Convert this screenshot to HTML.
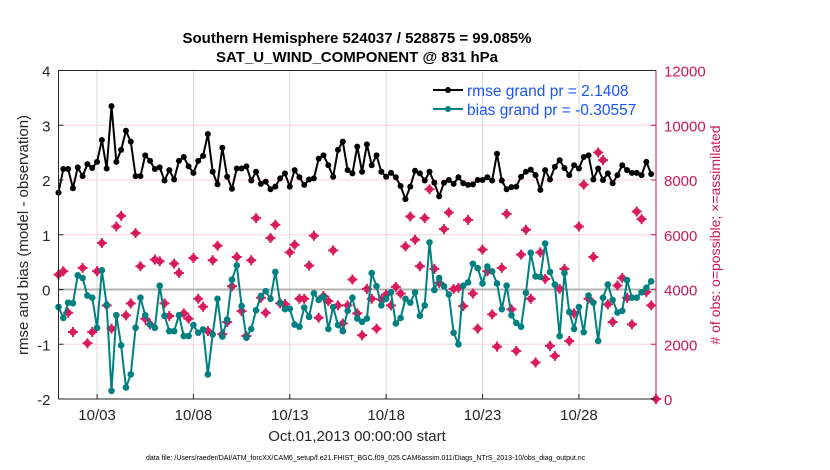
<!DOCTYPE html>
<html><head><meta charset="utf-8"><style>
html,body{margin:0;padding:0;background:#fff;}
svg{display:block;font-family:"Liberation Sans",Arial,sans-serif;}
</style></head><body>
<svg id="chart" width="830" height="470" viewBox="0 0 830 470">
<text x="357" y="43" text-anchor="middle" font-size="15" font-weight="bold" fill="#000">Southern Hemisphere 524037 / 528875 = 99.085%</text>
<text x="357" y="62" text-anchor="middle" font-size="15" font-weight="bold" fill="#000">SAT_U_WIND_COMPONENT @ 831 hPa</text>
<g id="grid"></g>
<g id="obsg"></g>
<g id="rmseg"></g>
<g id="biasg"></g>
<g id="axes"></g>
<g>
<line x1="433" y1="90" x2="463" y2="90" stroke="#000" stroke-width="2"/>
<circle cx="448" cy="90" r="3" fill="#000"/>
<text x="467" y="96" font-size="15.5" fill="#1a55f5">rmse grand pr = 2.1408</text>
<line x1="433" y1="109" x2="463" y2="109" stroke="#008080" stroke-width="2"/>
<circle cx="448" cy="109" r="3" fill="#008080"/>
<text x="467" y="115" font-size="15.5" fill="#1a55f5">bias grand pr = -0.30557</text>
</g>
<text transform="translate(28,235) rotate(-90)" text-anchor="middle" font-size="15" fill="#262626">rmse and bias (model - observation)</text>
<text transform="translate(720,235) rotate(-90)" text-anchor="middle" font-size="14" fill="#d0155a"># of obs: o=possible; ×=assimilated</text>
<text x="357" y="441" text-anchor="middle" font-size="15" fill="#262626">Oct.01,2013 00:00:00 start</text>
<text x="146" y="460" font-size="7" fill="#000">data file: /Users/raeder/DAI/ATM_forcXX/CAM6_setup/f.e21.FHIST_BGC.f09_025.CAM6assim.011/Diags_NTrS_2013-10/obs_diag_output.nc</text>
</svg>
<script>
const rmse=[1.77,2.2,2.2,1.85,2.23,2.07,2.29,2.22,2.33,2.73,2.21,3.35,2.33,2.55,2.9,2.7,2.07,2.07,2.45,2.35,2.2,2.23,1.99,2.18,2.01,2.35,2.42,2.25,2.13,2.35,2.44,2.84,2.15,1.92,2.59,2.06,1.84,2.21,2.21,2.25,1.99,2.15,1.93,1.97,1.83,1.88,2.03,2.12,1.88,2.18,2.05,1.91,2.01,2.03,2.39,2.45,2.27,2.06,2.55,2.7,2.18,2.12,2.61,2.15,2.65,2.27,2.45,2.15,2.06,2.13,2.05,1.89,1.65,1.88,2.17,2.12,1.99,2.15,1.95,1.7,1.95,2.0,1.93,2.05,1.94,1.91,1.92,2.0,2.0,2.05,1.99,2.48,1.99,1.83,1.87,1.88,2.06,2.15,2.19,2.09,1.82,2.18,2.01,2.24,2.36,2.22,2.09,2.27,2.21,2.42,2.45,2.01,2.21,2.0,2.12,1.94,2.09,2.27,2.18,2.13,2.13,2.09,2.33,2.11];
const bias=[-0.32,-0.52,-0.24,-0.25,0.26,0.21,-0.11,-0.15,-0.7,0.35,-0.28,-1.85,-0.47,-1.02,-1.79,-1.55,-0.7,-0.15,-0.47,-0.64,-0.7,0.07,-0.48,-0.76,-0.76,-0.47,-0.85,-0.85,-0.65,-0.79,-0.73,-1.55,-0.82,-0.17,-0.86,-0.55,0.18,0.44,-0.3,-0.88,-0.72,-0.38,-0.12,-0.03,-0.17,0.32,-0.24,-0.36,-0.35,-0.64,-0.68,-0.33,-0.5,-0.07,-0.19,-0.13,-0.72,-0.32,-0.65,-0.76,-0.39,-0.15,-0.53,-0.59,-0.53,0.3,0.06,-0.29,-0.17,-0.05,-0.62,-0.52,-0.17,-0.24,-0.05,-0.48,-0.29,0.86,-0.01,0.21,0.06,-0.09,-0.79,-1.0,0.07,0.13,0.47,0.39,0.11,0.42,0.33,0.11,-0.36,0.07,-0.47,-0.61,-0.68,-0.06,0.67,0.24,0.23,0.84,0.32,0.09,-0.85,0.3,-0.41,-0.72,-0.32,-0.78,-0.11,-0.24,-0.94,-0.15,0.09,-0.19,-0.42,-0.39,0.17,-0.15,-0.15,-0.05,0.03,0.15];
const obsCount=[4545,4667,3152,2448,null,4788,2036,2448,4667,5697,3418,2570,6303,6691,3055,3491,6061,4848,2933,2727,5091,5030,3491,3030,4945,4606,3127,2933,5152,3661,3370,2485,5067,5600,2364,2812,4121,5188,3212,2303,5067,6606,3697,3152,5879,6364,3491,3467,5358,5636,3661,3661,4873,5964,2970,3758,3576,5430,3418,2764,3418,4364,3127,2327,4024,3661,2570,3636,3818,3418,4097,3855,5576,6667,5818,4848,6606,7661,4752,4242,6206,6812,4024,4061,3394,6545,3855,2570,5455,4667,3091,1915,4788,6764,3273,1758,5273,6182,3661,1333,5358,4388,1939,1576,4024,4752,2121,3127,6303,7830,3661,5188,9006,8727,3455,2812,4145,4424,3697,2727,6848,6570,3903,3418,0];
const xTickLabels=["10/03","10/08","10/13","10/18","10/23","10/28"];
const xTickDays=[2,7,12,17,22,27];
const yLeftTicks=[-2,-1,0,1,2,3,4];
const yRightTicks=[0,2000,4000,6000,8000,10000,12000];
const stepDays=0.25;

const X0=58.5,X1=656,Y0=399,Y1=70.5;
const xs=d=>X0+(d/31)*(X1-X0);
const yl=v=>Y0-(v+2)/6*(Y0-Y1);
const yr=v=>Y0-v/12000*(Y0-Y1);
const NS="http://www.w3.org/2000/svg";
function mk(tag,attrs,parent){const e=document.createElementNS(NS,tag);for(const k in attrs)e.setAttribute(k,attrs[k]);parent.appendChild(e);return e;}
const grid=document.getElementById('grid'),axes=document.getElementById('axes');
xTickDays.forEach((d,i)=>{
  const gl=mk('line',{x1:xs(d),x2:xs(d),y1:Y1,y2:Y0,stroke:'#d9d9d9','stroke-width':1},grid);
  
  
  mk('line',{x1:xs(d),x2:xs(d),y1:Y0,y2:Y0-5,stroke:'#262626'},axes);
  const t=mk('text',{x:xs(d),y:Y0+21,'text-anchor':'middle','font-size':15,fill:'#262626'},axes);
  t.textContent=xTickLabels[i];
  
  
});
yLeftTicks.forEach(v=>{
  if(v>-2&&v<4&&v!==0){const gl=mk('line',{x1:X0,x2:X1,y1:yl(v),y2:yl(v),stroke:'#f6d3df','stroke-width':1},grid);
  
  }
  mk('line',{x1:X0,x2:X0+5,y1:yl(v),y2:yl(v),stroke:'#262626'},axes);
  const t=mk('text',{x:X0-8,y:yl(v)+6,'text-anchor':'end','font-size':15,fill:'#262626'},axes);
  t.textContent=v;
  
  
});
const zl=mk('line',{x1:X0,x2:X1,y1:yl(0),y2:yl(0),stroke:'#b3b3b3','stroke-width':2},grid);


yRightTicks.forEach(v=>{
  mk('line',{x1:X1,x2:X1-5,y1:yr(v),y2:yr(v),stroke:'#d0155a'},axes);
  const t=mk('text',{x:X1+8,y:yr(v)+6,'font-size':15,fill:'#d0155a'},axes);
  t.textContent=v;
  
  
});
mk('line',{x1:X0,x2:X0,y1:Y1,y2:Y0,stroke:'#262626'},axes);
mk('line',{x1:X0,x2:X1,y1:Y0,y2:Y0,stroke:'#262626'},axes);
mk('line',{x1:X0,x2:X1,y1:Y1,y2:Y1,stroke:'#262626'},axes);
mk('line',{x1:X1,x2:X1,y1:Y1,y2:Y0,stroke:'#d0155a'},axes);

const og=document.getElementById('obsg');
obsCount.forEach((v,i)=>{
  if(v===null)return;
  const x=xs(i*stepDays),y=yr(v);
  const c=mk('circle',{cx:x,cy:y,r:3.5,fill:'#d81b5e'},og);
  
  
  const p=mk('path',{d:`M${x-5},${y}H${x+5}M${x},${y-5}V${y+5}`,stroke:'#d81b5e','stroke-width':2},og);
  
  
});
function series(arr,g,color,r,name){
  const pts=arr.map((v,i)=>xs(i*stepDays)+','+yl(v)).join(' ');
  const pl=mk('polyline',{points:pts,fill:'none',stroke:color,'stroke-width':2},g);
  
  
  arr.forEach((v,i)=>{
    const c=mk('circle',{cx:xs(i*stepDays),cy:yl(v),r:r,fill:color},g);
    
    
  });
}
series(rmse,document.getElementById('rmseg'),'#000',3,'rmse');
series(bias,document.getElementById('biasg'),'#008080',3.3,'bias');
</script>
</body></html>
